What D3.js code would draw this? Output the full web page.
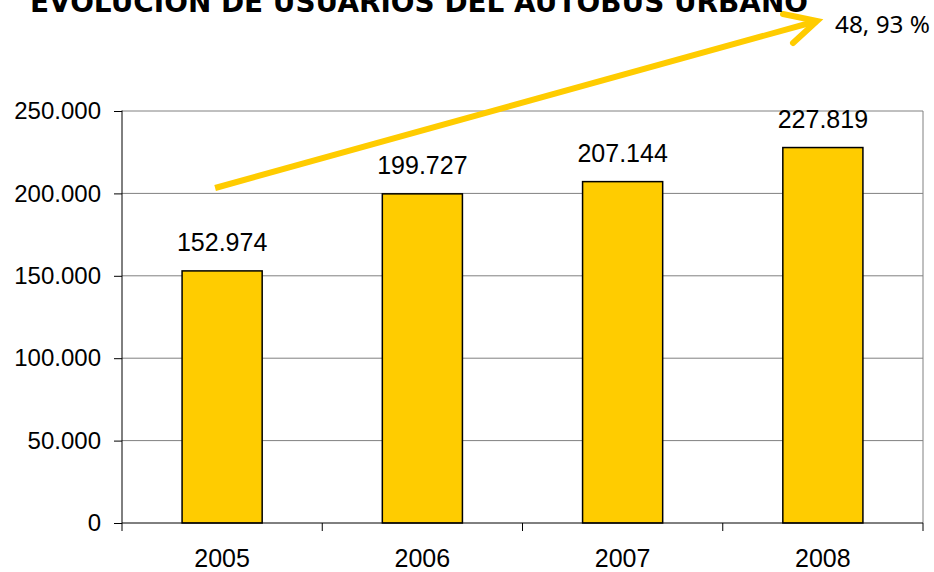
<!DOCTYPE html>
<html>
<head>
<meta charset="utf-8">
<script src="https://cdn.jsdelivr.net/npm/d3@7"></script>
<style>
  html, body { margin: 0; padding: 0; background: #fff; }
  svg { display: block; }
</style>
</head>
<body>
<svg id="chart" width="934" height="572"></svg>
<script>
const title = "EVOLUCIÓN DE USUARIOS DEL AUTOBÚS URBANO";
const years = ["2005", "2006", "2007", "2008"];
const users = [152974, 199727, 207144, 227819];
const valueLabels = ["152.974", "199.727", "207.144", "227.819"];
const yTicks = [0, 50000, 100000, 150000, 200000, 250000];
const yTickLabels = ["0", "50.000", "100.000", "150.000", "200.000", "250.000"];
const growthLabel = "48, 93 %";

(function () {
const svg = d3.select("#chart");
const pLeft = 122, pRight = 923, pTop = 111, pBottom = 523;

const x = d3.scaleBand().domain(years).range([pLeft, pRight]).padding(0);
const y = d3.scaleLinear().domain([0, 250000]).range([pBottom, pTop]);

const font = "'Liberation Sans', Arial, sans-serif";
const yellow = "#FFCC00";

// gridlines
svg.append("g").selectAll("line").data(yTicks.slice(1)).join("line")
  .attr("x1", pLeft).attr("x2", pRight)
  .attr("y1", d => y(d)).attr("y2", d => y(d))
  .attr("stroke", "#808080").attr("stroke-width", 1);

// right border
svg.append("line").attr("x1", pRight).attr("x2", pRight)
  .attr("y1", pTop).attr("y2", pBottom)
  .attr("stroke", "#808080").attr("stroke-width", 1);

// bars
const barW = x.bandwidth() * 0.4;
svg.append("g").selectAll("rect").data(years).join("rect")
  .attr("x", (d) => x(d) + (x.bandwidth() - barW) / 2)
  .attr("y", (d, i) => y(users[i]))
  .attr("width", barW)
  .attr("height", (d, i) => pBottom - y(users[i]))
  .attr("fill", yellow).attr("stroke", "#000").attr("stroke-width", 1.5);

// value labels
svg.append("g").selectAll("text").data(years).join("text")
  .attr("x", d => x(d) + x.bandwidth() / 2)
  .attr("y", (d, i) => y(users[i]) - 20)
  .attr("text-anchor", "middle")
  .attr("font-family", font).attr("font-size", 25).attr("fill", "#000")
  .text((d, i) => valueLabels[i]);

// y axis
const yAxis = d3.axisLeft(y).tickValues(yTicks)
  .tickFormat((d, i) => yTickLabels[i]).tickSize(8).tickPadding(13);
const gy = svg.append("g").attr("transform", `translate(${pLeft},0)`).call(yAxis);
gy.select(".domain").attr("stroke", "#000").attr("d", `M0,${pBottom}V${pTop - 0.5}`);
gy.selectAll(".tick line").attr("stroke", "#000");
gy.selectAll("text").attr("font-family", font).attr("font-size", 24).attr("fill", "#000");

// x axis
const gx = svg.append("g").attr("transform", `translate(0,${pBottom})`)
  .call(d3.axisBottom(x).tickSize(0).tickPadding(26));
gx.select(".domain").attr("stroke", "#000").attr("d", `M${pLeft},0H${pRight}`);
gx.selectAll("text").attr("font-family", font).attr("font-size", 25).attr("fill", "#000");
// category boundary ticks
const bounds = years.map(d => x(d)).concat([x(years[years.length - 1]) + x.bandwidth()]);
svg.append("g").selectAll("line").data(bounds).join("line")
  .attr("x1", d => d).attr("x2", d => d)
  .attr("y1", pBottom).attr("y2", pBottom + 8)
  .attr("stroke", "#000");

// growth arrow
const x0 = x(years[0]) + x.bandwidth() / 2 - 7;
const y0 = 188;
const x1 = 817, y1 = 21;
const arrow = svg.append("g").attr("stroke", yellow).attr("stroke-width", 6)
  .attr("stroke-linecap", "round").attr("fill", "none");
arrow.append("line").attr("x1", x0).attr("y1", y0).attr("x2", x1).attr("y2", y1).attr("stroke-linecap", "butt");
arrow.append("path").attr("d", `M783,14L${x1},${y1}L793,43`).attr("stroke-linejoin", "miter");

// growth label
svg.append("text").attr("x", 835).attr("y", 33)
  .attr("font-family", "'Noto Sans', 'Open Sans', sans-serif").attr("font-size", 23)
  .attr("textLength", 95).attr("lengthAdjust", "spacingAndGlyphs")
  .attr("fill", "#000").text(growthLabel);

// title (partially cut off at top)
svg.append("text").attr("x", 30).attr("y", 12)
  .attr("font-family", "'DejaVu Sans', Verdana, sans-serif").attr("font-weight", "bold")
  .attr("font-size", 28).attr("textLength", 778).attr("lengthAdjust", "spacingAndGlyphs")
  .attr("fill", "#000").text(title);
})();
</script>
</body>
</html>
